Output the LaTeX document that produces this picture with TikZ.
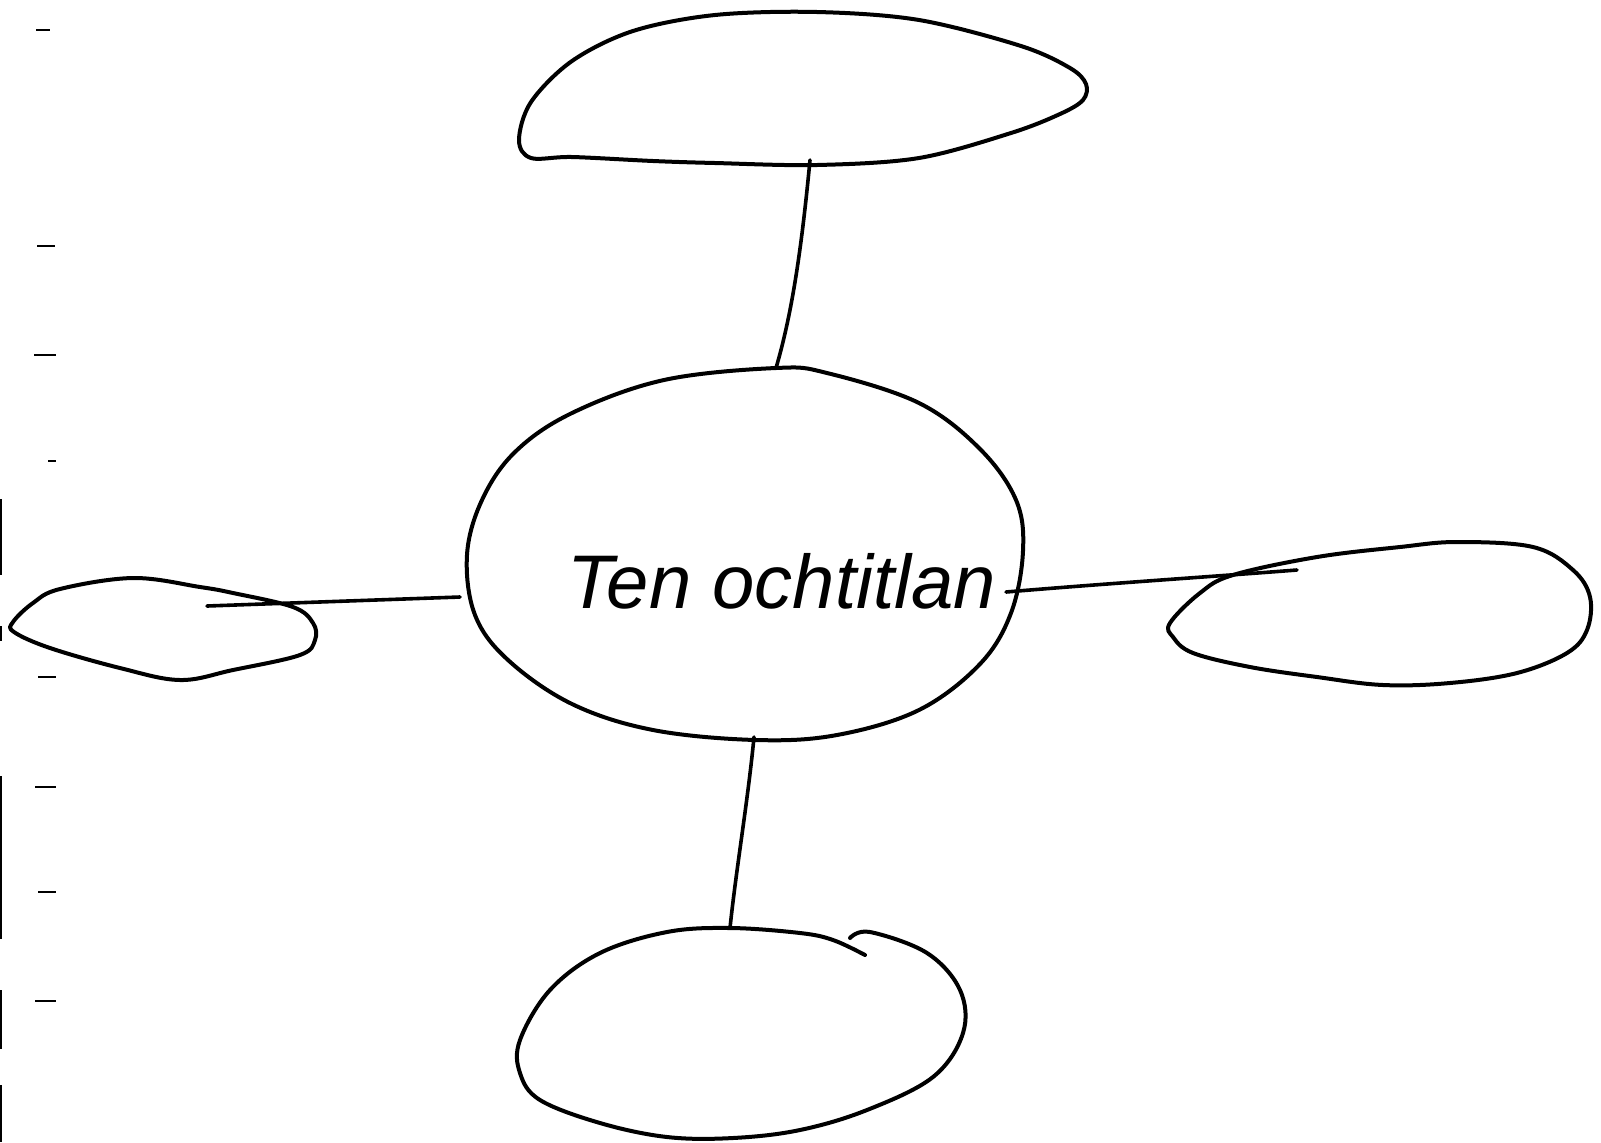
\documentclass[tikz,border=0pt]{standalone}
\usepackage{fontspec}
\setmainfont{Liberation Sans}
\begin{document}
\begin{tikzpicture}[x=0.5pt,y=-0.5pt,
  outline/.style={line width=2pt, line join=round, line cap=round},
  link/.style={line width=1.8pt, line cap=round},
  tick/.style={line width=1.2pt},
  margin/.style={line width=0.9pt},
  label/.style={anchor=base west, font=\fontsize{38}{44}\selectfont\itshape, inner sep=0pt}]
\useasboundingbox[fill=white] (0,0) rectangle (1601,1142);

% ruled-paper margin ticks
\foreach \xa/\xb/\yy in {36/50/30, 37/55/246, 34/56/355, 48/56/461, 38/56/677, 35/56/787, 38/56/892, 35/56/1001}
  \draw[tick] (\xa,\yy) -- (\xb,\yy);
% torn left edge of the sheet
\foreach \ya/\yb in {499/575, 626/641, 776/939, 990/1049, 1085/1142}
  \draw[margin] (1,\ya) -- (1,\yb);

% central bubble
\draw[outline] plot[smooth cycle, tension=0.6] coordinates {
  (467,555) (482,500) (515,452) (572,413) (664,380) (776,368) (827,373)
  (919,403) (980,449) (1016,500) (1023,551) (1011,613) (980,664) (919,710)
  (837,735) (756,740) (653,730) (572,704) (508,660) (475,615)};
\node[label] (city) at (567,608) {Ten ochtitlan};

% top bubble
\draw[outline] plot[smooth cycle, tension=0.55] coordinates {
  (519,140) (531,158) (572,157) (653,161) (715,163) (817,165) (919,158)
  (1011,133) (1060,114) (1083,100) (1086,84) (1070,68) (1021,46) (919,20) (817,12)
  (715,15) (633,31) (572,61) (531,102)};

% left bubble
\draw[outline] plot[smooth cycle, tension=0.6] coordinates {
  (13,622) (33,603) (60,589) (133,578) (200,587) (233,593) (293,607)
  (313,623) (315,640) (300,655) (233,670) (180,680) (120,668) (50,648) (14,632)};

% right bubble
\draw[outline] plot[smooth cycle, tension=0.6] coordinates {
  (1170,623) (1200,593) (1233,575) (1317,557) (1400,547) (1457,542)
  (1533,547) (1573,570) (1590,597) (1587,630) (1567,653) (1517,673)
  (1450,683) (1383,685) (1317,677) (1250,667) (1193,653) (1173,637)};

% bottom bubble (pen lifted near the top right)
\draw[outline] plot[smooth, tension=0.6] coordinates {
  (850,938) (870,932) (927,953) (960,990) (963,1033) (933,1077) (867,1110)
  (800,1130) (733,1138) (667,1137) (600,1123) (540,1100) (520,1073)
  (520,1040) (550,990) (600,953) (667,932) (730,928) (800,933) (833,940) (865,955)};

% attachment points on the bubbles
\coordinate (topfoot) at (810,160);
\coordinate (centretop) at (776,368);
\coordinate (leftin) at (207,606);
\coordinate (centreleft) at (460,597);
\coordinate (centreright) at (1006,592);
\coordinate (rightin) at (1297,570);
\coordinate (centrebottom) at (754,737);
\coordinate (bottomtop) at (730,928);

% connectors
\draw[link] (topfoot) .. controls (801,255) and (791,317) .. (centretop);
\draw[link] (leftin) -- (centreleft);
\draw[link] (centreright) .. controls (1100,584) and (1220,576) .. (rightin);
\draw[link] (centrebottom) .. controls (748,800) and (736,870) .. (bottomtop);
\end{tikzpicture}
\end{document}
